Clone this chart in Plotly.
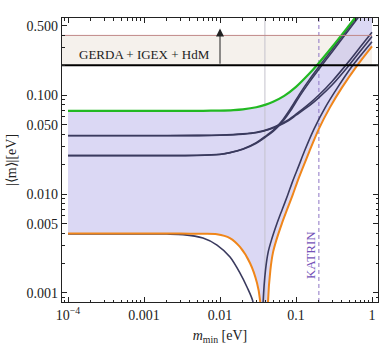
import plotly.graph_objects as go
import numpy as np

# ---------------- data ----------------
green_m = [1e-4, 1e-3, 0.003, 0.006, 0.01, 0.015, 0.02, 0.03, 0.04, 0.05, 0.07, 0.1, 0.15, 0.2, 0.3, 0.5, 0.7, 1.0]
green_v = [0.069, 0.069, 0.0691, 0.0693, 0.0697, 0.0705, 0.0717, 0.0752, 0.080, 0.0855, 0.098, 0.121, 0.165, 0.211, 0.307, 0.505, 0.703, 1.0]

orange_l_m = [1e-4, 1e-3, 0.003, 0.006, 0.0091, 0.0135, 0.0183, 0.0248, 0.0307, 0.0336, 0.0345]
orange_l_v = [0.0040, 0.0040, 0.00398, 0.00396, 0.00392, 0.00359, 0.00292, 0.00201, 0.00126, 0.00085, 0.0005]

orange_r_m = [0.0425, 0.0428, 0.046, 0.05, 0.055, 0.065, 0.076, 0.09, 0.105, 0.125, 0.15, 0.2, 0.28, 0.4, 0.63, 1.0]
orange_r_v = [0.0004, 0.0008, 0.0017, 0.0026, 0.0034, 0.0050, 0.0069, 0.0097, 0.0135, 0.0190, 0.0270, 0.0455, 0.075, 0.118, 0.196, 0.31]

d1a_m = [1e-4, 1e-3, 0.005, 0.01, 0.02, 0.03, 0.045, 0.06, 0.08, 0.1, 0.15, 0.2, 0.3, 0.5, 0.7, 1.0]
d1a_v = [0.039, 0.039, 0.0391, 0.0394, 0.0405, 0.042, 0.0455, 0.050, 0.0565, 0.064, 0.082, 0.100, 0.138, 0.22, 0.305, 0.43]
d1b_v = [0.0388, 0.0388, 0.0389, 0.0392, 0.0402, 0.0416, 0.045, 0.0492, 0.0553, 0.0625, 0.078, 0.094, 0.127, 0.2, 0.277, 0.39]

d2_m = [1e-4, 1e-3, 0.005, 0.01, 0.0135, 0.02, 0.03, 0.04, 0.05, 0.0585, 0.068, 0.085, 0.113, 0.15, 0.2, 0.3, 0.5, 0.7]
d2a_v = [0.0245, 0.0245, 0.0246, 0.0252, 0.0262, 0.0285, 0.033, 0.0385, 0.044, 0.0497, 0.057, 0.073, 0.104, 0.143, 0.193, 0.29, 0.485, 0.68]
d2b_v = [0.0244, 0.0244, 0.0245, 0.0251, 0.0261, 0.0283, 0.0326, 0.0378, 0.0430, 0.0482, 0.0548, 0.0695, 0.0985, 0.135, 0.182, 0.274, 0.46, 0.645]

d3l_m = [1e-4, 1e-3, 0.002, 0.00326, 0.00597, 0.00914, 0.01355, 0.01834, 0.02264, 0.0272, 0.0285]
d3l_v = [0.00396, 0.00396, 0.00394, 0.00389, 0.00359, 0.00305, 0.00231, 0.00159, 0.00115, 0.00081, 0.0004]

d3r_m = [0.0362, 0.0369, 0.0397, 0.0431, 0.0474, 0.056, 0.0655, 0.0776, 0.0905, 0.108, 0.129, 0.173, 0.243, 0.35, 0.55, 1.0]
d3r_v = [0.0004, 0.0008, 0.0017, 0.0026, 0.0034, 0.0050, 0.0069, 0.0097, 0.0135, 0.0190, 0.0270, 0.0455, 0.075, 0.118, 0.196, 0.345]

GERDA_BOUND = 0.2      # eV
BAND_TOP = 0.4         # eV
KATRIN_BOUND = 0.2     # eV
COSMO_BOUND = 0.039    # eV
ARROW_M = 0.01
ARROW_TIP = 0.47
X_MIN, X_MAX = 1e-4, 1.0
FLOOR = 1e-5
LABEL_TEXT = "GERDA + IGEX + HdM"

x_tickvals = [1e-4, 1e-3, 1e-2, 1e-1, 1]
x_ticktext = ["10<sup>\u22124</sup>", "0.001", "0.01", "0.1", "1"]
y_tickvals = [0.001, 0.005, 0.01, 0.05, 0.1, 0.5]
y_ticktext = ["0.001", "0.005", "0.010", "0.050", "0.100", "0.500"]

x_minor = [k * 10.0 ** e for e in range(-5, 1) for k in range(2, 10)]
y_minor = [k * 10.0 ** e for e in range(-4, 1) for k in range(2, 10)]

DARK = "#3a3a5e"
SERIF = "Liberation Serif, Times New Roman, serif"

fig = go.Figure()

# beige band (excluded region)
fig.add_trace(go.Scatter(x=[FLOOR, X_MAX, X_MAX, FLOOR], y=[GERDA_BOUND, GERDA_BOUND, BAND_TOP, BAND_TOP],
                         fill="toself", fillcolor="#f5f1ec", line=dict(width=0), mode="lines",
                         hoverinfo="skip", showlegend=False))

# allowed region shading
poly_x = list(green_m) + list(reversed(orange_r_m)) + [orange_r_m[0], orange_l_m[-1]] + list(reversed(orange_l_m))
poly_y = list(green_v) + list(reversed(orange_r_v)) + [FLOOR, FLOOR] + list(reversed(orange_l_v))
fig.add_trace(go.Scatter(x=poly_x, y=poly_y, fill="toself", fillcolor="rgba(190,184,235,0.55)",
                         line=dict(width=0), mode="lines", hoverinfo="skip", showlegend=False))

# vertical bounds
fig.add_trace(go.Scatter(x=[COSMO_BOUND, COSMO_BOUND], y=[FLOOR, 10], mode="lines",
                         line=dict(color="#c4c2cc", width=1), showlegend=False))
fig.add_trace(go.Scatter(x=[KATRIN_BOUND, KATRIN_BOUND], y=[FLOOR, 10], mode="lines",
                         line=dict(color="#8c74c4", width=1, dash="4px,3px"), showlegend=False))

def curve(xs, ys, color, width):
    fig.add_trace(go.Scatter(x=xs, y=ys, mode="lines", line=dict(color=color, width=width, shape="spline", smoothing=0.8),
                             showlegend=False))

curve(d1a_m, d1a_v, DARK, 1.6)
curve(d1a_m, d1b_v, DARK, 1.6)
curve(d2_m, d2a_v, DARK, 1.6)
curve(d2_m, d2b_v, DARK, 1.6)
curve(d3l_m, d3l_v, DARK, 1.6)
curve(d3r_m, d3r_v, DARK, 1.6)
curve(orange_l_m, orange_l_v, "#f0861a", 2)
curve(orange_r_m, orange_r_v, "#f0861a", 2)
curve(green_m, green_v, "#22b922", 2.2)

# horizontal lines
fig.add_trace(go.Scatter(x=[FLOOR, X_MAX], y=[BAND_TOP, BAND_TOP], mode="lines",
                         line=dict(color="#c08888", width=1), showlegend=False))
fig.add_trace(go.Scatter(x=[FLOOR, 100], y=[GERDA_BOUND, GERDA_BOUND], mode="lines",
                         line=dict(color="black", width=2), showlegend=False))

fig.add_annotation(x=np.log10(ARROW_M), y=np.log10(ARROW_TIP), ax=np.log10(ARROW_M), ay=np.log10(GERDA_BOUND),
                   xref="x", yref="y", axref="x", ayref="y", text="", showarrow=True,
                   arrowhead=2, arrowsize=1.6, arrowwidth=1, arrowcolor="#222")
fig.add_annotation(x=np.log10(0.001), y=np.log10(0.254), xref="x", yref="y", text=LABEL_TEXT,
                   showarrow=False, font=dict(family=SERIF, size=13, color="#222"))
fig.add_annotation(x=np.log10(0.153), y=np.log10(0.00242), xref="x", yref="y", text="KATRIN", textangle=-90,
                   showarrow=False, font=dict(family=SERIF, size=13, color="#7452b8"))

axis_common = dict(showline=True, linecolor="#222", linewidth=1.3, mirror="allticks", ticks="inside",
                   ticklen=5, tickcolor="#222", showgrid=False, zeroline=False,
                   tickfont=dict(family=SERIF, size=14, color="#222"))

fig.update_xaxes(type="log", range=[-4.079, 0.079], tickmode="array", tickvals=x_tickvals, ticktext=x_ticktext,
                 minor=dict(tickmode="array", tickvals=x_minor, ticks="inside", ticklen=2.5, tickcolor="#222"),
                 title=dict(text="<i>m</i><sub>min</sub> [eV]", font=dict(family=SERIF, size=14, color="#222"), standoff=8),
                 **axis_common)
fig.update_yaxes(type="log", range=[-3.091, -0.222], tickmode="array", tickvals=y_tickvals, ticktext=y_ticktext,
                 minor=dict(tickmode="array", tickvals=y_minor, ticks="inside", ticklen=2.5, tickcolor="#222"),
                 title=dict(text="|\u27e8m\u27e9|[eV]", font=dict(family=SERIF, size=14, color="#222"), standoff=6),
                 **axis_common)

fig.update_layout(width=382, height=349, margin=dict(l=62, r=4, t=18, b=47, autoexpand=False),
                  paper_bgcolor="white", plot_bgcolor="white", showlegend=False)

fig.write_html("out.html", config={"displayModeBar": False, "staticPlot": True},
               post_script="document.body.style.margin='0';document.body.style.overflow='hidden';")
